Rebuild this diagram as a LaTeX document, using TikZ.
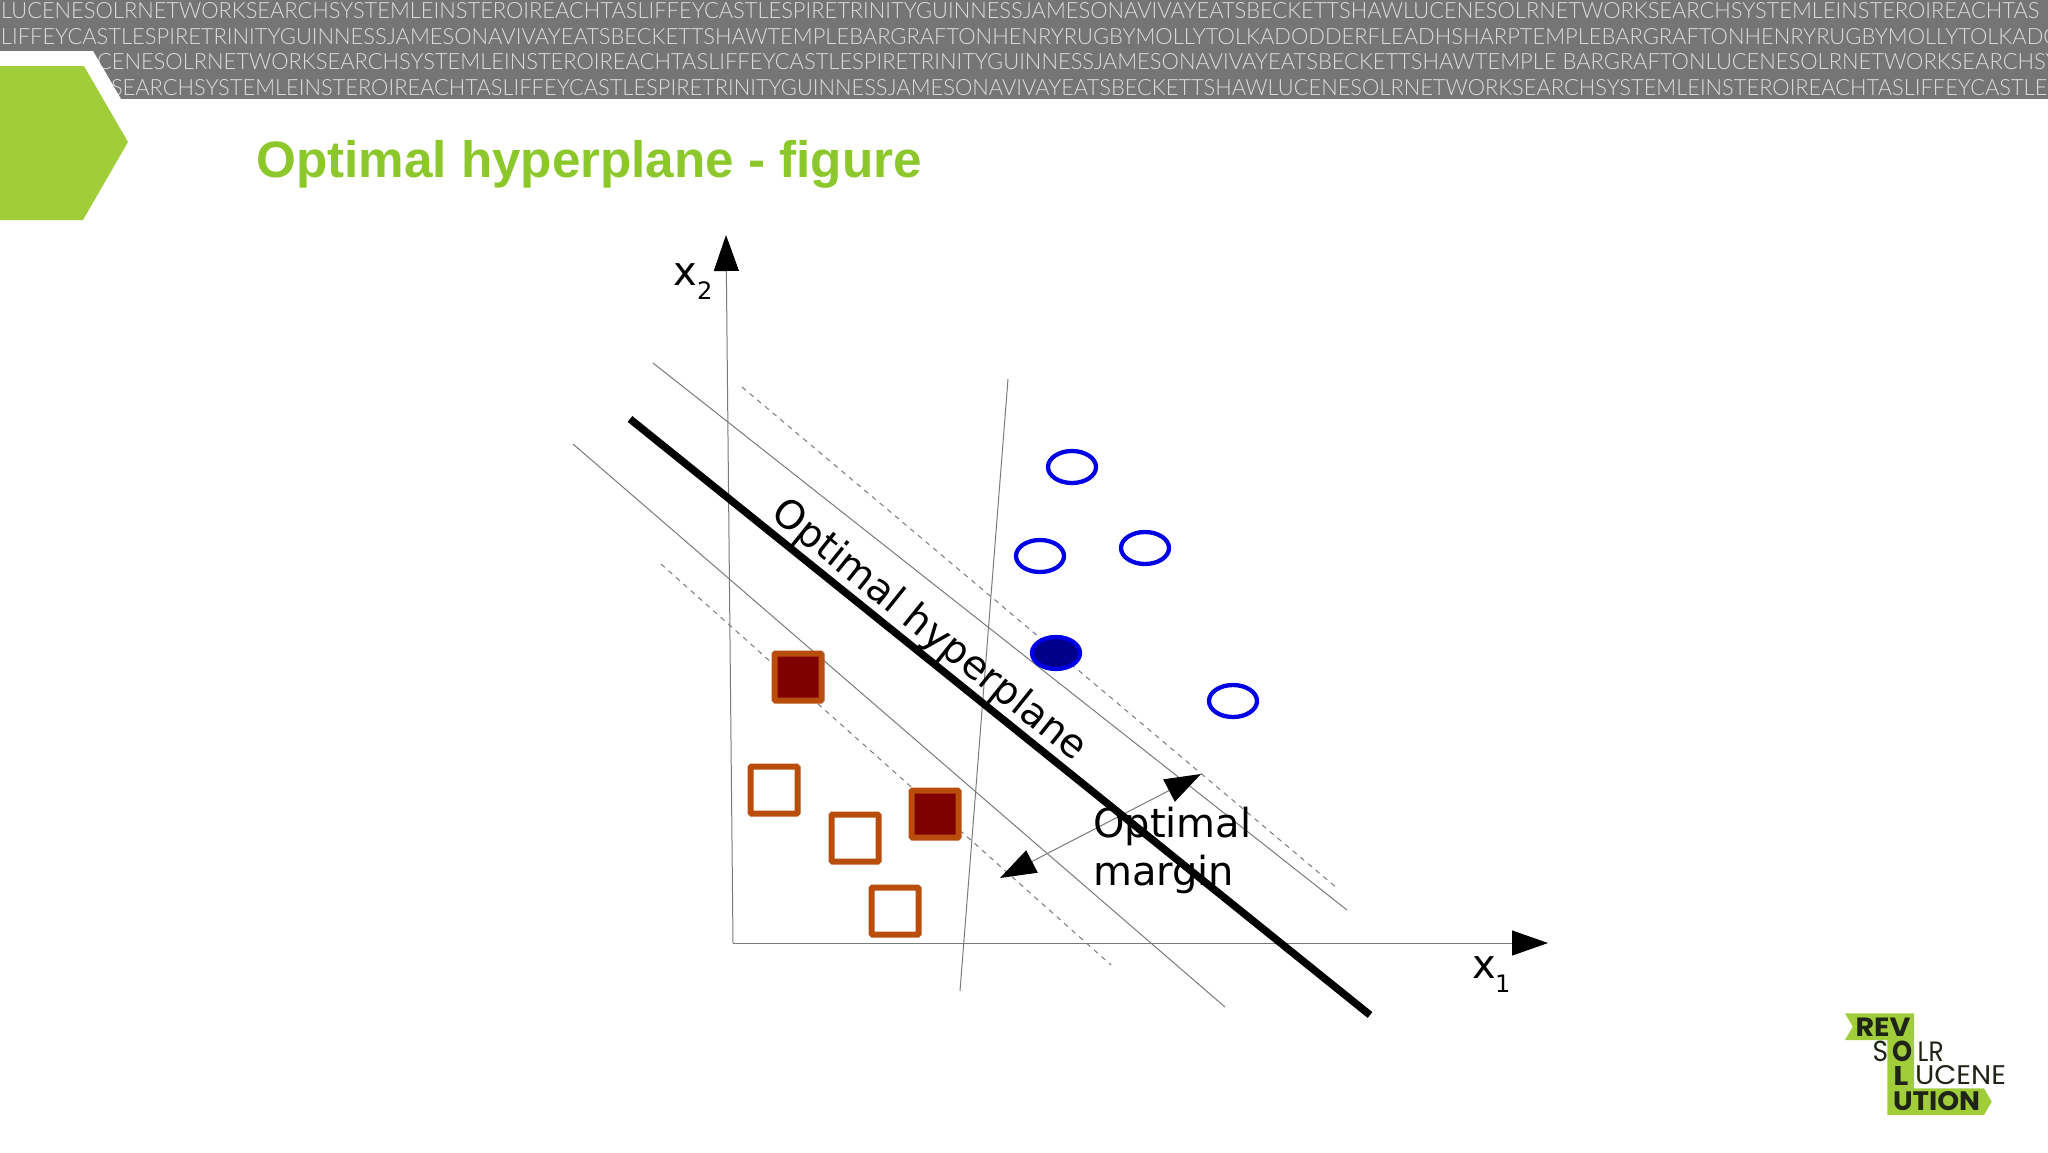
\documentclass[tikz,border=0pt]{standalone}
\usepackage{graphicx}
\usepackage{fontspec}
\usetikzlibrary{arrows.meta,shapes.geometric}
\setmainfont{Liberation Sans}
\newfontfamily\figfont{DejaVu Sans}
\newfontfamily\bandfont{Lato Light}
\newfontfamily\logofont{Poppins}
\definecolor{bandgray}{HTML}{757575}
\definecolor{bandtext}{HTML}{DCDCDC}
\definecolor{limeshape}{HTML}{A2CD3A}
\definecolor{titlegreen}{HTML}{8CC82B}
\definecolor{linegray}{HTML}{7A7A7A}
\definecolor{sqedge}{HTML}{B94E0C}
\definecolor{sqfill}{HTML}{800000}
\definecolor{circedge}{HTML}{0000E6}
\definecolor{circfill}{HTML}{00008B}
\definecolor{logoink}{HTML}{1E2416}
\tikzset{
  bandrow/.style={anchor=west,inner sep=0pt,outer sep=0pt,text=bandtext,font=\bandfont},
  thinline/.style={draw=linegray,line width=1pt},
  dashline/.style={draw=linegray,line width=1pt,dash pattern=on 5pt off 5pt},
  bighead/.style={-{Triangle[length=36pt,width=25pt,color=black]}},
  twohead/.style={{Triangle[length=36pt,width=25pt,color=black]}-{Triangle[length=36pt,width=25pt,color=black]}},
  sqhollow/.style={draw=sqedge,fill=white,line width=6pt,rounded corners=1pt,minimum size=47pt,inner sep=0pt,outer sep=0pt},
  sqsolid/.style={sqhollow,fill=sqfill},
  circhollow/.style={draw=circedge,fill=white,line width=4.3pt,ellipse,minimum width=48pt,minimum height=32pt,inner sep=0pt},
  circsolid/.style={circhollow,fill=circfill},
  figlabel/.style={font=\figfont\fontsize{40}{46}\selectfont,text=black,inner sep=0pt},
  sublabel/.style={inner sep=0pt,font=\figfont\fontsize{24}{24}\selectfont,anchor=base west},
  logotext/.style={inner sep=0pt,outer sep=0pt,text=logoink,font=\logofont},
}
\newcommand{\fitbox}[3]{\resizebox{#1pt}{#2pt}{#3}}
\begin{document}
\begin{tikzpicture}[x=1pt,y=-1pt]
\useasboundingbox (0,0) rectangle (2048,1152);
\fill[white] (0,0) rectangle (2048,1152);
% top band
\fill[bandgray] (0,0) rectangle (2048,99);
\begin{scope}
\clip (0,0) rectangle (2048,99);
\node[bandrow] (row1) at (1,10.5) {\fitbox{2038}{16}{LUCENESOLRNETWORKSEARCHSYSTEMLEINSTEROIREACHTASLIFFEYCASTLESPIRETRINITYGUINNESSJAMESONAVIVAYEATSBECKETTSHAWLUCENESOLRNETWORKSEARCHSYSTEMLEINSTEROIREACHTAS}};
\node[bandrow] (row2) at (1,36.5) {\fitbox{2059}{16}{LIFFEYCASTLESPIRETRINITYGUINNESSJAMESONAVIVAYEATSBECKETTSHAWTEMPLEBARGRAFTONHENRYRUGBYMOLLYTOLKADODDERFLEADHSHARPTEMPLEBARGRAFTONHENRYRUGBYMOLLYTOLKADO}};
\node[bandrow] (row3) at (97,62) {\fitbox{1961}{16}{CENESOLRNETWORKSEARCHSYSTEMLEINSTEROIREACHTASLIFFEYCASTLESPIRETRINITYGUINNESSJAMESONAVIVAYEATSBECKETTSHAWTEMPLE BARGRAFTONLUCENESOLRNETWORKSEARCHSY}};
\node[bandrow] (row4) at (111,88) {\fitbox{1936}{16}{SEARCHSYSTEMLEINSTEROIREACHTASLIFFEYCASTLESPIRETRINITYGUINNESSJAMESONAVIVAYEATSBECKETTSHAWLUCENESOLRNETWORKSEARCHSYSTEMLEINSTEROIREACHTASLIFFEYCASTLE}};
\end{scope}
% white chevron and green shape
\fill[white] (0,51) -- (93,51) -- (121,99) -- (145,142) -- (93,226) -- (0,226) -- cycle;
\fill[limeshape] (0,66) -- (84,66) -- (128,142) -- (83,220) -- (0,220) -- cycle;
% title
\node[anchor=base west,inner sep=0pt,text=titlegreen,font=\bfseries\fontsize{51.2}{51.2}\selectfont] (title) at (256,177) {Optimal hyperplane - figure};
% coordinates
\coordinate (origin) at (733,943);
\coordinate (ytip) at (726,235);
\coordinate (xtip) at (1548,943);
\coordinate (ta) at (653,363); \coordinate (tb) at (1347,910);
\coordinate (tc) at (573,444); \coordinate (td) at (1225,1007);
\coordinate (da) at (742,387); \coordinate (db) at (1337,888);
\coordinate (dc) at (661,564); \coordinate (dd) at (1111,965);
\coordinate (ha) at (630,419); \coordinate (hb) at (1370,1015);
\coordinate (sa) at (1008,379); \coordinate (sb) at (960,991);
\coordinate (ma) at (1000,878); \coordinate (mb) at (1201,774);
% lines
\draw[thinline,bighead] (origin) -- (ytip);
\draw[thinline,bighead] (origin) -- (xtip);
\draw[thinline] (ta) -- (tb);
\draw[thinline] (tc) -- (td);
\draw[thinline] (sa) -- (sb);
\draw[dashline] (da) -- (db);
\draw[dashline] (dc) -- (dd);
\draw[thinline,twohead] (ma) -- (mb);
\draw[line width=7.5pt,black] (ha) -- (hb);
% squares
\node[sqsolid] (s1) at (798,677) {};
\node[sqhollow] (s2) at (774,790) {};
\node[sqhollow] (s3) at (855,838) {};
\node[sqsolid] (s4) at (935,814) {};
\node[sqhollow] (s5) at (895,911) {};
% circles
\node[circhollow] (c1) at (1072,467) {};
\node[circhollow] (c2) at (1040,556) {};
\node[circhollow] (c3) at (1145,548) {};
\node[circhollow] (c4) at (1233,701) {};
\node[circsolid] (c5) at (1056,653) {};
% labels
\node[figlabel,font=\figfont\fontsize{39.4}{46}\selectfont,rotate=-38.8] (hyper) at (929,631) {Optimal hyperplane};
\node[figlabel,anchor=base west] (m1) at (1093,837) {Optimal};
\node[figlabel,anchor=base west] (m2) at (1093,885) {margin};
\node[figlabel,anchor=base west] (x2) at (673,285) {x};
\node[sublabel] (x2s) at (697,299) {2};
\node[figlabel,anchor=base west] (x1) at (1472,978) {x};
\node[sublabel] (x1s) at (1495,992) {1};
% logo
\fill[limeshape] (1845,1013.3) -- (1914,1013.3) -- (1914,1088.3) -- (1984,1088.3) -- (1991.7,1101.7) -- (1984,1115) -- (1887.3,1115) -- (1887.3,1040) -- (1845,1040) -- (1852.7,1026.7) -- cycle;
\node[logotext,anchor=south west] (lg1) at (1855.5,1036.7) {\fitbox{55}{18.5}{\bfseries REV}};
\node[logotext,anchor=south west] (lg2) at (1872.5,1061.7) {\fitbox{15.5}{20.5}{S}};
\node[logotext,anchor=south west] (lg3) at (1892,1061.7) {\fitbox{20}{20.5}{\bfseries O}};
\node[logotext,anchor=south west] (lg4) at (1917.7,1061.7) {\fitbox{26}{19.5}{LR}};
\node[logotext,anchor=south west] (lg5) at (1893.3,1085) {\fitbox{15}{19}{\bfseries L}};
\node[logotext,anchor=south west] (lg6) at (1915,1085) {\fitbox{91}{19}{UCENE}};
\node[logotext,anchor=south west] (lg7) at (1893,1110.7) {\fitbox{87}{19}{\bfseries UTION}};
\end{tikzpicture}
\end{document}
